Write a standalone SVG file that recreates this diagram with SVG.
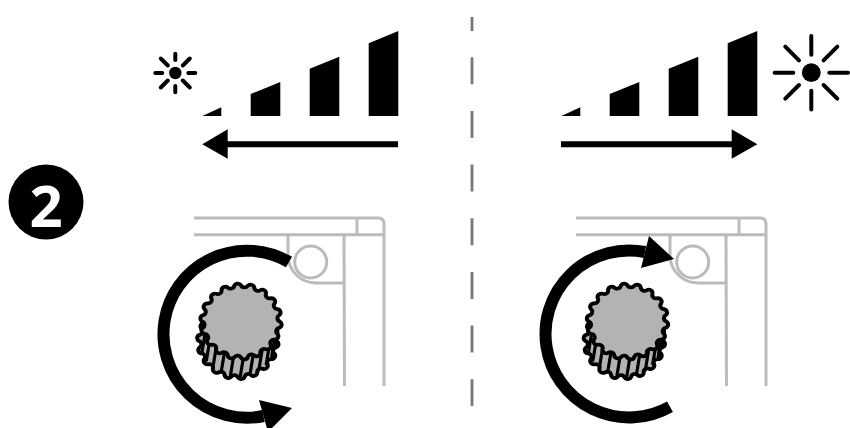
<svg xmlns="http://www.w3.org/2000/svg" width="850" height="428" viewBox="0 0 850 428">
<style>
.bar{fill:#000}
.frame{fill:none;stroke:#bbb;stroke-width:3}
.ring{fill:none;stroke:#000;stroke-width:12}
.ray{stroke:#000;stroke-linecap:round}
.gear{fill:#b3b3b3;stroke:#000;stroke-width:3.800;stroke-linejoin:round}
.ridge{fill:none;stroke:#000;stroke-width:3;stroke-linecap:round}
.shaft{stroke:#000;stroke-width:6;fill:none}
</style>
<defs>
<path id="scallop" d="M37,0A3.6 3.6 0 0 1 36.44,6.42A3.6 3.6 0 0 0 34.77,12.65A3.6 3.6 0 0 1 32.04,18.5A3.6 3.6 0 0 0 28.34,23.78A3.6 3.6 0 0 1 23.78,28.34A3.6 3.6 0 0 0 18.5,32.04A3.6 3.6 0 0 1 12.65,34.77A3.6 3.6 0 0 0 6.42,36.44A3.6 3.6 0 0 1 0,37A3.6 3.6 0 0 0 -6.42,36.44A3.6 3.6 0 0 1 -12.65,34.77A3.6 3.6 0 0 0 -18.5,32.04A3.6 3.6 0 0 1 -23.78,28.34A3.6 3.6 0 0 0 -28.34,23.78A3.6 3.6 0 0 1 -32.04,18.5A3.6 3.6 0 0 0 -34.77,12.65A3.6 3.6 0 0 1 -36.44,6.42A3.6 3.6 0 0 0 -37,0A3.6 3.6 0 0 1 -36.44,-6.42A3.6 3.6 0 0 0 -34.77,-12.65A3.6 3.6 0 0 1 -32.04,-18.5A3.6 3.6 0 0 0 -28.34,-23.78A3.6 3.6 0 0 1 -23.78,-28.34A3.6 3.6 0 0 0 -18.5,-32.04A3.6 3.6 0 0 1 -12.65,-34.77A3.6 3.6 0 0 0 -6.42,-36.44A3.6 3.6 0 0 1 0,-37A3.6 3.6 0 0 0 6.42,-36.44A3.6 3.6 0 0 1 12.65,-34.77A3.6 3.6 0 0 0 18.5,-32.04A3.6 3.6 0 0 1 23.78,-28.34A3.6 3.6 0 0 0 28.34,-23.78A3.6 3.6 0 0 1 32.04,-18.5A3.6 3.6 0 0 0 34.77,-12.65A3.6 3.6 0 0 1 36.44,-6.42A3.6 3.6 0 0 0 37,0Z"/>
<g id="knob" transform="scale(1.05,.98)">
<use href="#scallop" class="gear" transform="translate(-3,20)"/>
<path class="ridge" d="M35.3,7L32.3,26.500M32.3,15.9L29.300,35.400M27.1,23.7L24.100,43.200M20,29.9L17,49.400M11.6,34.1L8.600,53.600M2.4,35.9L-.6,55.400M-7,35.3L-10,54.800M-15.9,32.3L-18.900,51.800M-23.7,27.1L-26.700,46.600M-29.9,20L-32.900,39.500M-34.1,11.6L-37.100,31.100"/>
<use href="#scallop" class="gear"/>
</g>
<path id="bars" class="bar" d="M0,85L19,76.3V85ZM48.4,63L78,51V85H48.4ZM107.4,37.7L137,25.7V85H107.4ZM166.4,12.3L196,0V85H166.4Z"/>
<path id="plate" class="frame" d="M0,0H184Q190,0 190,6V168M0,16.7H190M163,0V16.7M94,16.7V37A28 28 0 0 0 122,65H150M150,16.7L150.500,168"/>
</defs>

<g id="device-left">
<use href="#plate" x="194" y="218"/>
<circle class="frame" cx="310.700" cy="262" r="16"/>
</g>
<g id="device-right">
<use href="#plate" x="576" y="218"/>
<circle class="frame" cx="692.700" cy="262" r="16"/>
</g>

<g id="connectors">
<path id="divider" d="M472,17V31M472,57.300V406" fill="none" stroke="#777" stroke-width="2.800" stroke-dasharray="27 26.650"/>
<line class="shaft" x1="398" y1="144.300" x2="225" y2="144.300"/>
<line class="shaft" x1="561" y1="144.300" x2="734" y2="144.300"/>
<path class="ring" d="M289,262A83.500 83.500 0 1 0 263.500,416"/>
<path class="ring" d="M670,406.700A83.500 83.500 0 1 1 645,252"/>
<path d="M202.300,144.300L227.700,129.300V158.700Z"/>
<path d="M757.300,144.300L731.700,129.300V158.700Z"/>
<path d="M292,408L259,400L268,432Z"/>
<path d="M674,259L649,236L641,268Z"/>
</g>

<g id="badge">
<circle cx="46" cy="202" r="37.500" fill="#000"/>
<text x="46" y="227" font-family="'Open Sans',sans-serif" font-weight="700" font-size="58" fill="#fff" text-anchor="middle">2</text>
</g>

<g id="sun-dim">
<circle cx="175.300" cy="73" r="6.200"/>
<path class="ray" stroke-width="4" d="M175.300,53.700V60M175.300,86V92.300M155.300,73H162.300M188.300,73H195.300M160.800,58.500L167.800,65.500M182.800,80.500L189.800,87.500M189.800,58.500L182.800,65.500M167.800,80.500L160.800,87.500"/>
</g>
<g id="sun-bright">
<circle cx="811.300" cy="72.700" r="9.400"/>
<path class="ray" stroke-width="4" d="M811.300,36V54.700M811.300,90.700V109.400M774.600,72.700H793.300M829.300,72.700H848M785.300,46.700L799,60.400M823.600,85L837.300,98.700M837.300,46.700L823.600,60.400M799,85L785.300,98.700"/>
</g>

<g id="bars-left"><use href="#bars" x="202.300" y="31"/></g>
<g id="bars-right"><use href="#bars" x="561.300" y="31"/></g>

<g id="knob-left"><use href="#knob" transform="translate(241,321.500)"/></g>
<g id="knob-right"><use href="#knob" transform="translate(627.500,321.500)"/></g>
</svg>
